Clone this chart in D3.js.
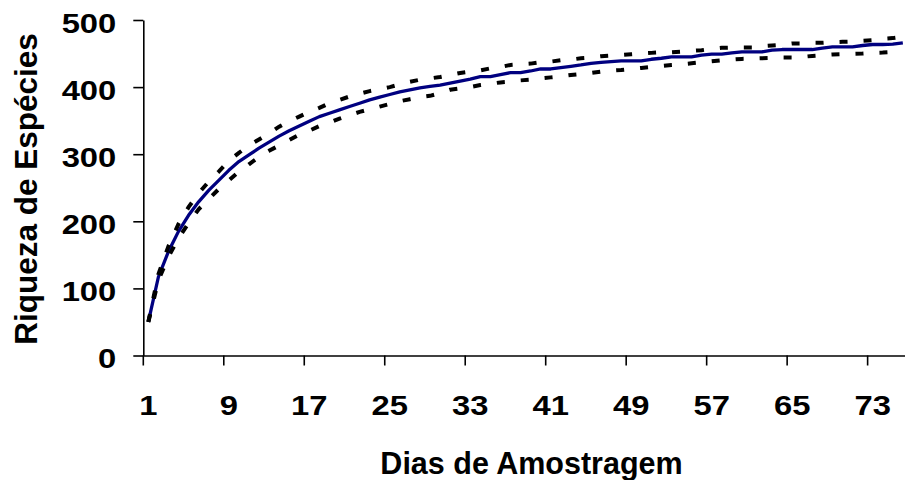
<!DOCTYPE html>
<html>
<head>
<meta charset="utf-8">
<script src="https://cdn.jsdelivr.net/npm/d3@7"></script>
<style>
  html, body { margin: 0; padding: 0; background: #fff; }
  svg { display: block; }
  text { font-family: "Liberation Sans", Arial, sans-serif; font-weight: bold; fill: #000; }
</style>
</head>
<body>
<svg id="chart" width="905" height="480"></svg>
<script>
// Sampling days (categories)
const days = d3.range(1, 77);

// Mean species richness per day
const mean = [
  50, 117, 155, 185, 209, 229, 246, 261, 276, 289,
  299, 309, 318, 327, 335, 342, 349, 356, 361, 366,
  371, 376, 381, 385, 389, 393, 396, 399, 401, 403,
  406, 409, 412, 415.5, 415.5, 418.5, 421.5, 421.5, 424, 427,
  427, 429, 431, 433, 435.5, 437, 438, 439, 439, 439,
  441.5, 443, 445, 445, 445, 447.5, 449, 449, 451, 452.5,
  452.5, 452.5, 455, 456, 456, 456, 456, 458, 460, 460,
  460, 462, 463.5, 463.5, 464, 466
];

// Upper confidence bound
const upper = [
  50, 121, 163, 196, 221, 242, 259, 274, 290, 302,
  313, 322, 331, 341, 349, 356, 363, 369, 376, 381,
  386, 390, 394, 397, 400, 404, 408, 411, 413, 415,
  418, 421, 423, 425, 428, 430, 433, 434, 435, 437,
  438, 440, 441, 443, 444, 446, 447, 448, 449, 450,
  451, 452, 452, 453, 454, 455, 457, 458.5, 459, 459,
  459, 461, 462, 463, 465, 465, 466, 466, 467, 467.5,
  468, 469, 470, 472, 473, 475
];

// Lower confidence bound
const lower = [
  50, 112, 147, 175, 197, 218, 233, 248, 261, 274,
  285, 296, 305, 313, 321, 329, 335, 342, 347, 353,
  358, 363, 367, 371, 375, 379, 382, 385, 387, 391,
  396, 398, 400, 403, 405, 407, 408, 410, 411, 413,
  414.5, 416, 418, 419.5, 421, 423, 424.5, 425.5, 427, 428.5,
  430, 431.5, 433, 434, 435.5, 437, 438.5, 440, 441, 442,
  442.5, 443, 443.5, 444, 444, 445, 446.5, 447.5, 448.5, 449,
  449.5, 450, 451, 451.5, 452.5, 453.5
];

const xTickDays = [1, 9, 17, 25, 33, 41, 49, 57, 65, 73];
const yTicks = [0, 100, 200, 300, 400, 500];

const svg = d3.select("#chart");

const plotLeft = 143.3, step = 10.06;
const x = d3.scaleBand().domain(days).range([plotLeft, plotLeft + step * days.length]);
const y = d3.scaleLinear().domain([0, 500]).range([355.5, 20]);
const cx = d => x(d) + x.bandwidth() / 2;

// Axes
const gx = svg.append("g")
  .attr("transform", `translate(0,${y(0)})`)
  .call(d3.axisBottom(x).tickValues(xTickDays).tickSize(10).tickPadding(29.6).tickSizeOuter(0));
gx.selectAll(".tick line").attr("transform", `translate(${-x.bandwidth() / 2},0)`);
gx.selectAll(".tick text")
  .attr("font-size", 28)
  .attr("transform", "scale(1.17,1)");

const gy = svg.append("g")
  .attr("transform", `translate(${plotLeft},0)`)
  .call(d3.axisLeft(y).tickValues(yTicks).tickSize(10).tickSizeOuter(0));
gy.selectAll(".tick text")
  .attr("font-size", 28)
  .attr("x", 0)
  .attr("dy", "0.43em")
  .attr("transform", "translate(-27,0) scale(1.17,1)");

svg.selectAll(".domain, .tick line").attr("stroke", "#000").attr("stroke-width", 1.6);

// Series
const line = d3.line().x((v, i) => cx(days[i])).y(v => y(v));

svg.append("path")
  .attr("d", line(mean))
  .attr("fill", "none")
  .attr("stroke", "#000080")
  .attr("stroke-width", 3.3)
  .attr("stroke-linejoin", "round");

[upper, lower].forEach(series => {
  svg.append("path")
    .attr("d", line(series))
    .attr("fill", "none")
    .attr("stroke", "#000")
    .attr("stroke-width", 4)
    .attr("stroke-dasharray", "8,16");
});

// Axis titles
svg.append("text")
  .attr("x", 531.5)
  .attr("y", 474)
  .attr("text-anchor", "middle")
  .attr("font-size", 30.5)
  .text("Dias de Amostragem");

svg.append("text")
  .attr("transform", "translate(37,189) rotate(-90)")
  .attr("text-anchor", "middle")
  .attr("font-size", 31.5)
  .text("Riqueza de Espécies");
</script>
</body>
</html>
